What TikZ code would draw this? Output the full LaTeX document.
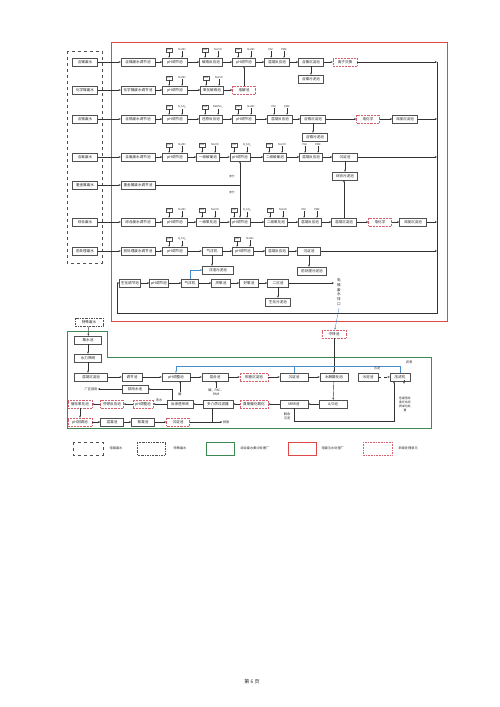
\documentclass[tikz,border=0pt]{standalone}
\usepackage{fontspec}
\setmainfont{Noto Sans CJK SC}
\usetikzlibrary{arrows.meta, positioning, calc}
\definecolor{platered}{RGB}{222, 72, 72}
\definecolor{parkgreen}{RGB}{62, 136, 84}
\definecolor{newred}{RGB}{214, 96, 110}
\definecolor{boxgray}{RGB}{80, 80, 80}
\definecolor{linegray}{RGB}{50, 50, 50}
\definecolor{txtgray}{RGB}{40, 40, 40}
\definecolor{pipeblue}{RGB}{72, 140, 205}

\tikzset{
  unit/.style={draw=boxgray, line width=0.45pt, fill=white, text=txtgray,
    minimum width=#1, minimum height=8pt, inner sep=0.5pt,
    font=\fontsize{3.6}{4}\selectfont},
  unit/.default=23,
  newunit/.style={unit=#1, draw=newred, densely dotted},
  newunit/.default=23,
  meter/.style={draw=boxgray, line width=0.3pt, fill=white, text=txtgray,
    minimum width=6pt, minimum height=4pt, inner sep=0.4pt,
    font=\fontsize{2.6}{3}\selectfont},
  chem/.style={inner sep=0.3pt, text=txtgray, font=\fontsize{2.6}{3}\selectfont},
  note/.style={inner sep=0.3pt, text=txtgray, font=\fontsize{3.2}{3.8}\selectfont},
  flow/.style={-{Stealth[length=2.2pt,width=1.8pt]}, line width=0.4pt, draw=linegray},
  pipe/.style={line width=0.4pt, draw=linegray},
  feed/.style={-{Stealth[length=1.5pt,width=1.3pt]}, line width=0.3pt, draw=linegray},
  blueflow/.style={flow, draw=pipeblue},
  plating/.style={draw=boxgray, line width=0.6pt, dashed},
  special/.style={draw=boxgray, line width=0.6pt, dash pattern=on 2pt off 1pt on 0.6pt off 1pt}
}

% dosing: meter box on the left, chemical on the right
\newcommand{\dose}[3]{%
  \node[meter] (#1m) at ($(#1.north)+(-6,-8)$) {#2};
  \node[chem] (#1c) at ($(#1.north)+(7,-8)$) {#3};
  \draw[feed] (#1m.south) -- ($(#1.north)+(-6,0)$);
  \draw[feed] (#1c.south) -- ($(#1.north)+(7,0)$);
}
\newcommand{\dosepair}[3]{%
  \node[chem] (#1m) at ($(#1.north)+(-6,-8)$) {#2};
  \node[chem] (#1c) at ($(#1.north)+(7,-8)$) {#3};
  \draw[feed] (#1m.south) -- ($(#1.north)+(-6,0)$);
  \draw[feed] (#1c.south) -- ($(#1.north)+(7,0)$);
}

\begin{document}
\begin{tikzpicture}[x=1pt, y=-1pt]
\useasboundingbox[fill=white] (0,0) rectangle (500,707);

% frames
\draw[platered, line width=1pt] (111,42) rectangle (447,321);
\draw[plating] (67,51) rectangle (102,263);
\draw[parkgreen, line width=1pt] (67,331) -- (107,331) -- (107,357) -- (431,357)
  -- (431,428) -- (67,428) -- cycle;

% sources
\node[unit=25] (s1) at (85,62) {含镍废水};
\node[unit=25] (s2) at (85,90) {化学镍废水};
\node[unit=25] (s3) at (85,119) {含铬废水};
\node[unit=25] (s4) at (85,157) {含氰废水};
\node[unit=25] (s5) at (85,185) {重金属废水};
\node[unit=25] (s6) at (85,222) {综合废水};
\node[unit=25] (s7) at (85,251) {前处理废水};

% equalisation tanks
\node[unit=34] (t1) at (138,62) {含镍废水调节池};
\node[unit=34] (t2) at (138,90) {化学镍废水调节池};
\node[unit=34] (t3) at (138,119) {含铬废水调节池};
\node[unit=34] (t4) at (138,157) {含氰废水调节池};
\node[unit=34] (t5) at (138,185) {重金属废水调节池};
\node[unit=34] (t6) at (138,222) {综合废水调节池};
\node[unit=34] (t7) at (138,251) {前处理废水调节池};

% row 1
\node[unit=25] (r1a) at (175,62) {pH调节池};
\node[unit] (r1b) at (211,62) {破络反应池};
\node[unit] (r1c) at (244,62) {pH调节池};
\node[unit=25] (r1d) at (277,62) {混凝反应池};
\node[unit=25] (r1e) at (311,62) {含镍沉淀池};
\node[newunit=24] (r1f) at (345,62) {离子交换};
\node[unit=25] (r1g) at (311,79) {含镍污泥池};

% row 2
\node[unit=25] (r2a) at (175,90) {pH调节池};
\node[unit] (r2b) at (212,90) {氧化破络池};
\node[newunit] (r2c) at (244,90) {电解池};

% row 3
\node[unit=25] (r3a) at (175,119) {pH调节池};
\node[unit] (r3b) at (211,119) {还原反应池};
\node[unit] (r3c) at (244,119) {pH调节池};
\node[unit=25] (r3d) at (280,119) {混凝反应池};
\node[unit=25] (r3e) at (313,119) {含铬沉淀池};
\node[newunit] (r3f) at (368,119) {电化学};
\node[unit=25] (r3g) at (405,119) {深度沉淀池};
\node[unit=25] (r3h) at (315,137) {含铬污泥池};

% row 4
\node[unit=25] (r4a) at (175,157) {pH调节池};
\node[unit] (r4b) at (208,157) {一级破氰池};
\node[unit=20] (r4c) at (240,157) {pH调节池};
\node[unit] (r4d) at (275,157) {二级破氰池};
\node[unit] (r4e) at (311,157) {混凝反应池};
\node[unit=25] (r4f) at (345,157) {沉淀池};
\node[unit=25] (r4g) at (345,176) {综合污泥池};

% row 6
\node[unit=25] (r6a) at (175,222) {pH调节池};
\node[unit] (r6b) at (208,222) {一级氧化池};
\node[unit=20] (r6c) at (240,222) {pH调节池};
\node[unit] (r6d) at (276,222) {二级氧化池};
\node[unit] (r6e) at (310,222) {混凝反应池};
\node[unit=25] (r6f) at (344,222) {混凝沉淀池};
\node[newunit] (r6g) at (380,222) {电化学};
\node[unit=27] (r6h) at (413,222) {深度沉淀池};

% row 7
\node[unit=25] (r7a) at (175,251) {pH调节池};
\node[unit=20] (r7b) at (212,251) {气浮机};
\node[unit=21] (r7c) at (243,251) {pH调节池};
\node[unit] (r7d) at (277,251) {混凝反应池};
\node[unit] (r7e) at (309,251) {沉淀池};
\node[unit=31] (r7f) at (218,270) {浮渣污泥池};
\node[unit=29] (r7g) at (312,271) {前处理污泥池};

% row 8
\node[unit=21] (r8a) at (130,283) {生化调节池};
\node[unit=19] (r8b) at (159,283) {pH调节池};
\node[unit=17] (r8c) at (190,283) {气浮机};
\node[unit=19] (r8d) at (221,283) {厌氧池};
\node[unit=19] (r8e) at (249,283) {好氧池};
\node[unit=21] (r8f) at (278,283) {二沉池};
\node[unit=25] (r8g) at (278,302) {生化污泥池};
\node[note, align=center, font=\fontsize{3.6}{4.8}\selectfont] (vout) at (339,292)
  {电\\镀\\废\\水\\排\\口};
\coordinate (outlet) at (334,283);

% collector and return line
\coordinate (colTop) at (437,62);
\coordinate (colBot) at (437,313);
\coordinate (retL) at (117,313);
\draw[pipe] (colTop) -- (colBot) -- (retL) -- (retL |- r8a);
\draw[flow] (retL |- r8a) -- (r8a);

\foreach \a/\b in {s1/t1, t1/r1a, r1a/r1b, r1b/r1c, r1c/r1d, r1d/r1e, r1e/r1f,
  s2/t2, t2/r2a, r2a/r2b, r2b/r2c,
  s3/t3, t3/r3a, r3a/r3b, r3b/r3c, r3c/r3d, r3d/r3e, r3e/r3f, r3f/r3g,
  s4/t4, t4/r4a, r4a/r4b, r4b/r4c, r4c/r4d, r4d/r4e, r4e/r4f,
  s6/t6, t6/r6a, r6a/r6b, r6b/r6c, r6c/r6d, r6d/r6e, r6e/r6f, r6f/r6g, r6g/r6h,
  s7/t7, t7/r7a, r7a/r7b, r7b/r7c, r7c/r7d, r7d/r7e,
  r8a/r8b, r8b/r8c, r8c/r8d, r8d/r8e, r8e/r8f}
  \draw[flow] (\a) -- (\b);
\foreach \n in {r1f, r3g, r4f, r6h, r7e}
  \draw[flow] (\n) -- (\n -| colTop);
\draw[flow] (s5) -- (t5);
\draw[pipe] (t5) -- (t5 -| r4c);
\draw[flow] (t5 -| r4c) -- (r4c);
\draw[flow] (t5 -| r4c) -- (r6c);
\node[chem] at (232,177) {部分};
\node[chem] at (232,193) {部分};
\draw[flow] (r2c) -- (r1c);
\draw[flow] (r1e) -- (r1g);
\draw[flow] (r3e.south) -- (r3e.south |- r3h.north);
\draw[flow] (r4f) -- (r4g);
\draw[flow] (r6f.north) -- (r6f.north |- r4g.south);
\draw[flow] (r7b.south) -- (r7b.south |- r7f.north);
\draw[flow] (r7e.south) -- (r7e.south |- r7g.north);
\draw[flow] (r8f) -- (r8g);
\draw[flow] (r8f) -- (outlet);
\draw[blueflow] (r8c.north) |- (r7f.west);

% dosing
\foreach \n/\p/\q in {r1a/pH/NaOH, r1b/ORP/NaClO, r1c/pH/NaOH,
  r2a/pH/NaOH, r2b/ORP/NaClO,
  r3a/pH/{H\textsubscript{2}SO\textsubscript{4}}, r3b/ORP/{NaHSO\textsubscript{3}}, r3c/pH/NaOH,
  r4a/pH/NaOH, r4b/ORP/NaClO, r4c/pH/{H\textsubscript{2}SO\textsubscript{4}}, r4d/ORP/NaClO,
  r6a/pH/NaOH, r6b/ORP/NaClO, r6c/pH/{H\textsubscript{2}SO\textsubscript{4}}, r6d/ORP/NaClO,
  r7a/pH/{H\textsubscript{2}SO\textsubscript{4}}, r7c/pH/NaOH}
  {\dose{\n}{\p}{\q}}
\foreach \n in {r1d, r3d, r4e, r6e}
  {\dosepair{\n}{PAC}{PAM}}

% special wastewater line
\node[newunit=24] (zz) at (334,334) {中转池};
\draw[blueflow] (vout.south |- 0,308) -- (zz);
\node[unit=28, special] (sp) at (89,322) {特殊废水};
\node[unit=27] (g0) at (88,340) {集水池};
\node[unit=27] (g00) at (88,358) {水力筛网};

\node[unit=33] (ga) at (91,377) {混凝沉淀池};
\node[unit=20] (gb) at (132,377) {调节池};
\node[unit=28] (gc) at (176,377) {pH调整池};
\node[unit=26] (gd) at (215,377) {混合池};
\node[newunit=28] (ge) at (254,377) {斜管沉淀池};
\node[unit=28] (gf) at (294,377) {沉淀池};
\node[unit=28] (gg) at (334,377) {水解酸化池};
\node[unit=20] (gh) at (368,377) {污泥池};
\node[unit=20] (gi) at (400,377) {压滤机};
\node[note, align=center, font=\fontsize{2.9}{3.9}\selectfont] (disp) at (405,404)
  {危废暂存\\委托有资\\质单位处\\置};

\node[newunit=24] (gp) at (80,404) {催化氧化池};
\node[newunit=23] (gq) at (112,404) {芬顿反应池};
\node[newunit=20] (gr) at (143,404) {pH调整池};
\node[unit=26] (gs) at (180,404) {反渗透系统};
\node[unit=30] (gt) at (218,404) {多介质过滤器};
\node[newunit=28] (gu) at (254,404) {臭氧催化氧化};
\node[unit=28] (gv) at (294,404) {MBR池};
\node[unit=28] (gw) at (333,404) {A/O池};
\node[unit=26] (gz) at (135,389) {回用水池};
\node[note] (reuse) at (91,389) {厂区回用};

\node[newunit=24] (gx) at (80,422) {pH回调池};
\node[unit=23] (gy) at (112,422) {混凝池};
\node[unit=23] (g3c) at (143,422) {絮凝池};
\node[newunit=23] (g3d) at (178,422) {沉淀池};
\node[note] (emit) at (226,422) {排放};
\coordinate (jn) at (212,422);

\draw[flow] (zz) -- (gg);
\draw[flow] (sp) -- (g0);
\draw[flow] (g0) -- (g00);
\draw[flow] (g00.south) -- (g00.south |- ga.north);
\foreach \a/\b in {ga/gb, gb/gc, gc/gd, gd/ge, ge/gf, gf/gg,
  gg/gw, gw/gv, gv/gu, gu/gt, gt/gs, gs/gr, gr/gq, gq/gp, gp/gx,
  gx/gy, gy/g3c, g3c/g3d, gz/reuse}
  \draw[flow] (\a) -- (\b);
\draw[flow, dashed] (gh) -- (gi);
\draw[flow, dashed] ($(gi.south)+(4,0)$) -- ($(gi.south)+(4,0)$ |- disp.north);
\draw[flow] ($(gs.north)+(-8,0)$) |- (gz);
\draw[pipe] (g3d) -- (jn);
\draw[pipe] (gt.south -| jn) -- (jn);
\draw[flow] (jn) -- (emit);
\node[note] at (159,400) {浓水};

\node[note] (acid) at (180,394) {酸};
\draw[feed] (acid.north) -- (acid.north |- gc.south);
\node[note, align=center] (alk) at (216,392) {碱、PAC、\\PAM};
\draw[feed] (alk.north) -- (alk.north |- gd.south);

\coordinate (sl) at (394,421);
\draw[flow] (gv.south) |- (sl) -- (sl |- gi.south);
\node[note, align=center] at (287,416) {剩余\\污泥};

\coordinate (fl) at (176,366);
\draw[blueflow] (gi.north) |- (fl) -- (fl |- gc.north);
\draw[pipe, draw=pipeblue] (fl -| gf) -- (gf.north);
\node[note] at (409,362) {滤液};
\node[note] at (377,368) {污泥};

% legend
\draw[plating] (73,442) rectangle (103,455);
\node[note] at (116,448.5) {电镀废水};
\draw[special] (137,442) rectangle (165,455);
\node[note] at (180,448.5) {特殊废水};
\draw[parkgreen, line width=1pt] (206,442) rectangle (234,455);
\node[note, anchor=west] at (240,448.5) {综合废水集中处理厂};
\draw[platered, line width=1pt] (288,442) rectangle (316,455);
\node[note, anchor=west] at (321,448.5) {电镀污水处理厂};
\draw[newred, densely dotted, line width=0.6pt] (363,442) rectangle (392,455);
\node[note, anchor=west] at (398,448.5) {新增处理单元};

\node[text=txtgray, font=\fontsize{5}{6}\selectfont] at (252,682) {第 6 页};
\end{tikzpicture}
\end{document}
